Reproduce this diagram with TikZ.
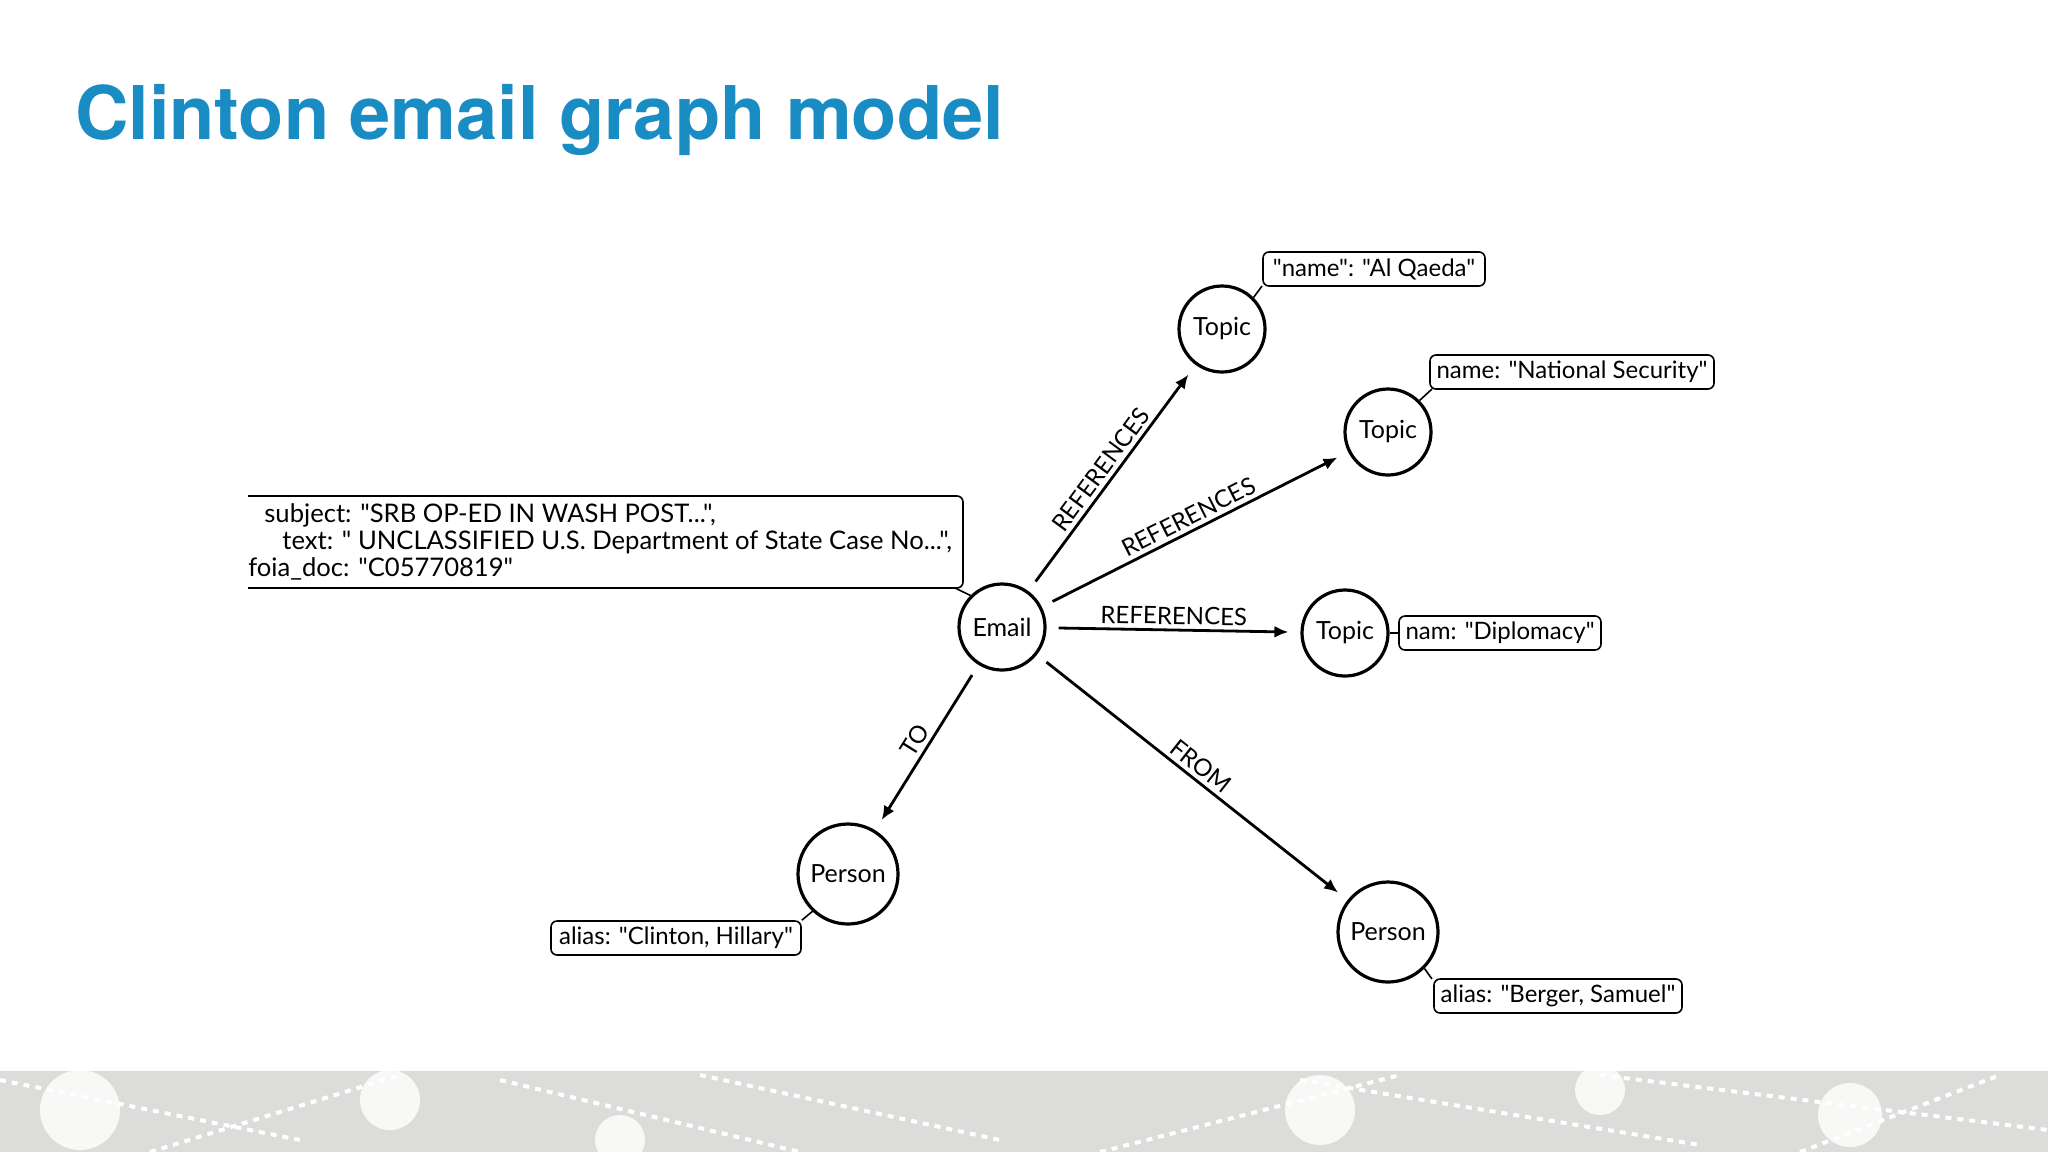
\documentclass[tikz,border=0pt]{standalone}
\usepackage{fontspec}
\setmainfont{Lato}[Ligatures=TeXOff]
\newfontfamily\titlefont{TeX Gyre Heros}
\usetikzlibrary{arrows.meta}
\definecolor{ttl}{HTML}{1A8CC4}
\definecolor{band}{HTML}{DCDCDA}
\newcommand{\qq}{\symbol{34}}
\tikzset{
 gnode/.style={circle,draw,line width=1.6pt,minimum size=43pt,inner sep=0pt,font=\fontsize{12.5}{15}\selectfont},
 pnode/.style={gnode,minimum size=50pt},
 prop/.style={draw,rounded corners=3pt,line width=0.8pt,inner sep=0pt,minimum height=17pt,font=\fontsize{12}{14}\selectfont},
 rel/.style={-{Latex[length=7pt,width=6pt]},line width=1.4pt,shorten >=6pt,shorten <=6pt},
 lab/.style={font=\fontsize{12}{14}\selectfont,sloped,above,inner sep=2pt},
 tail/.style={line width=0.8pt}
}
\begin{document}
\begin{tikzpicture}[x=0.5pt,y=-0.5pt]
\useasboundingbox (0,0) rectangle (2048,1152);
\fill[white] (0,0) rectangle (2048,1152);
\fill[band] (0,1071) rectangle (2048,1152);
\foreach \cx/\cy/\r in {80/1110/40,390/1100/30,620/1140/25,1320/1110/35,1850/1115/32,1600/1090/25}{\fill[white,opacity=0.8] (\cx,\cy) circle (\r);}
\foreach \a/\b/\c/\d in {0/1080/300/1140,150/1152/400/1075,500/1080/800/1152,700/1075/1000/1140,1100/1152/1400/1075,1300/1080/1700/1145,1600/1075/2048/1130,1800/1152/2000/1075}{\draw[white,line width=2pt,dashed] (\a,\b)--(\c,\d);}
\node[anchor=west,text=ttl,font=\titlefont\bfseries\fontsize{37}{40}\selectfont] (title) at (68,120) {Clinton email graph model};

\node[gnode] (email) at (1002,627) {Email};
\node[gnode] (t1) at (1222,329) {Topic};
\node[gnode] (t2) at (1388,432) {Topic};
\node[gnode] (t3) at (1345,633) {Topic};
\node[pnode] (p1) at (848,874) {Person};
\node[pnode] (p2) at (1388,932) {Person};

\draw[rel] (email) -- node[lab]{REFERENCES} (t1);
\draw[rel] (email) -- node[lab]{REFERENCES} (t2);
\draw[rel] (email) -- node[lab]{REFERENCES} (t3);
\draw[rel] (email) -- node[lab]{TO} (p1);
\draw[rel] (email) -- node[lab]{FROM} (p2);

\node[prop,minimum width=111pt] (c1) at (1374,269) {\qq name\qq: \qq Al Qaeda\qq};
\node[prop,minimum width=142pt] (c2) at (1572,372) {name: \qq National Security\qq};
\node[prop,minimum width=101pt] (c3) at (1500,633) {nam: \qq Diplomacy\qq};
\node[prop,minimum width=125pt] (c4) at (676,938) {alias: \qq Clinton, Hillary\qq};
\node[prop,minimum width=124pt] (c5) at (1558,996) {alias: \qq Berger, Samuel\qq};
\draw[tail] (1262,286) -- (t1.north east);
\draw[tail] (1432,389) -- (t2.north east);
\draw[tail] (c3.west) -- (t3.east);
\draw[tail] (c4.north east) -- ++(12,-10);
\draw[tail] (1432,979) -- (p2.south east);

\node[anchor=north west,align=left,inner sep=0pt,font=\fontsize{12.8}{13.5}\selectfont] (big) at (248,503)
{\hspace*{8pt}subject: \qq SRB OP-ED IN WASH POST...\qq,\\
\hspace*{17pt}text: \qq\ UNCLASSIFIED U.S. Department of State Case No...\qq,\\
foia\_doc: \qq C05770819\qq};
\draw[tail,rounded corners=3pt] (248,496) -- (963,496) -- (963,588) -- (248,588);
\draw[tail] (955,588) -- (email.north west);
\end{tikzpicture}
\end{document}
